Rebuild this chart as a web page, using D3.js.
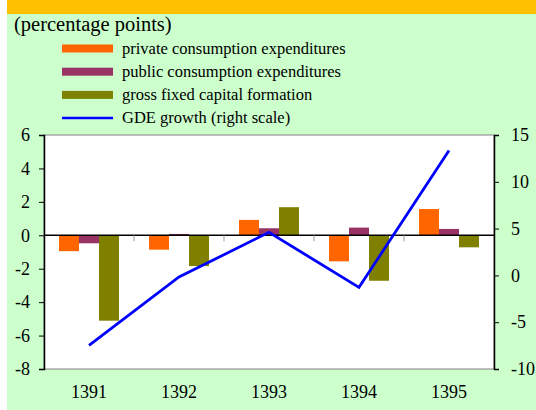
<!DOCTYPE html>
<html>
<head>
<meta charset="utf-8">
<script src="https://cdn.jsdelivr.net/npm/d3@7"></script>
<style>
  body { margin: 0; background: #fff; }
  svg text { font-family: "Liberation Serif", "Times New Roman", serif; fill: #000; }
</style>
</head>
<body>
<svg id="chart" width="536" height="410"></svg>
<script>
const years = ["1391", "1392", "1393", "1394", "1395"];
const privateCons = [-0.95, -0.86, 0.92, -1.56, 1.57];
const publicCons = [-0.48, 0.08, 0.42, 0.46, 0.38];
const gfcf = [-5.11, -1.84, 1.68, -2.72, -0.72];
const gdeGrowth = [-7.48, -0.17, 4.6, -1.28, 13.35];
const leftTicks = [6, 4, 2, 0, -2, -4, -6, -8];
const rightTicks = [15, 10, 5, 0, -5, -10];

const seriesNames = ["private consumption expenditures", "public consumption expenditures", "gross fixed capital formation"];
const seriesColors = ["#ff6600", "#993366", "#808000"];
const lineName = "GDE growth (right scale)";

const svg = d3.select("svg#chart");
const width = +svg.attr("width");
const height = +svg.attr("height");
const margin = { top: 135, right: 42, bottom: 41, left: 44 };
const chartWidth = width - margin.left - margin.right;
const chartHeight = height - margin.top - margin.bottom;
const serif = "Liberation Serif";
const fmt = d => String(d); // plain hyphen minus like the original

// backgrounds
svg.append("rect").attr("x", 7).attr("y", 0).attr("width", width - 7).attr("height", height).attr("fill", "#ccffcc");
svg.append("rect").attr("x", 7).attr("y", 0).attr("width", width - 7).attr("height", 14).attr("fill", "#ffc000");

const chart = svg.append("g").attr("transform", `translate(${margin.left},${margin.top})`);
chart.append("rect").attr("width", chartWidth).attr("height", chartHeight)
    .attr("fill", "#fff").attr("stroke", "#808080").attr("stroke-width", 1);

// scales
const xScale = d3.scaleBand().domain(years).range([0, chartWidth]).paddingInner(1 / 3).paddingOuter(1 / 6);
const subScale = d3.scaleBand().domain(d3.range(3)).range([0, xScale.bandwidth()]);
const yLeft = d3.scaleLinear().domain([-8, 6]).range([chartHeight, 0]);
const yRight = d3.scaleLinear().domain([-10, 15]).range([chartHeight, 0]);

const barData = [privateCons, publicCons, gfcf];

// bars
barData.forEach((vals, i) => {
    chart.append("g").selectAll("rect")
        .data(vals)
        .join("rect")
        .attr("x", (d, j) => xScale(years[j]) + subScale(i))
        .attr("width", subScale.bandwidth())
        .attr("y", d => yLeft(Math.max(0, d)))
        .attr("height", d => Math.abs(yLeft(d) - yLeft(0)))
        .attr("fill", seriesColors[i]);
});

// zero line with category ticks
chart.append("line").attr("x1", 0).attr("x2", chartWidth)
    .attr("y1", yLeft(0)).attr("y2", yLeft(0)).attr("stroke", "#000").attr("stroke-width", 1.5);
const step = xScale.step();
chart.append("g").selectAll("line")
    .data(d3.range(1, years.length))
    .join("line")
    .attr("x1", d => d * step).attr("x2", d => d * step)
    .attr("y1", yLeft(0)).attr("y2", yLeft(0) + 6)
    .attr("stroke", "#999").attr("stroke-width", 1);

// GDE line
const lineGen = d3.line()
    .x((d, i) => xScale(years[i]) + xScale.bandwidth() / 2)
    .y(d => yRight(d));
chart.append("path").attr("d", lineGen(gdeGrowth))
    .attr("fill", "none").attr("stroke", "#0000ff").attr("stroke-width", 2.8);

// axes
const leftAxis = d3.axisLeft(yLeft).tickValues(leftTicks).tickSize(5).tickPadding(9).tickFormat(fmt);
const rightAxis = d3.axisRight(yRight).tickValues(rightTicks).tickSize(5).tickPadding(12).tickFormat(fmt);
const gl = chart.append("g").call(leftAxis);
const gr = chart.append("g").attr("transform", `translate(${chartWidth},0)`).call(rightAxis);
[gl, gr].forEach(g => {
    g.attr("font-family", serif).attr("font-size", 18);
    g.selectAll("path").attr("stroke", "#000").attr("stroke-width", 1.5);
    g.selectAll("line").attr("stroke", "#000");
    g.selectAll("text").attr("font-family", serif).attr("font-size", 18);
});

// category labels
chart.append("g").selectAll("text")
    .data(years)
    .join("text")
    .attr("x", d => xScale(d) + xScale.bandwidth() / 2)
    .attr("y", chartHeight + 29)
    .attr("text-anchor", "middle")
    .attr("font-family", serif)
    .attr("font-size", 18)
    .text(d => d);

// title
svg.append("text").attr("x", 14).attr("y", 31)
    .attr("font-family", serif).attr("font-size", 20.5).text("(percentage points)");

// legend
const legend = svg.append("g").attr("font-family", serif);
seriesNames.forEach((name, i) => {
    const y = 48.5 + i * 23.2;
    legend.append("rect").attr("x", 62).attr("y", y - 4).attr("width", 51).attr("height", 8).attr("fill", seriesColors[i]);
    legend.append("text").attr("x", 122).attr("y", y + 5).attr("font-family", serif).attr("font-size", 16.5).text(name);
});
const ly = 48.5 + 3 * 23.2;
legend.append("line").attr("x1", 62).attr("x2", 113).attr("y1", ly).attr("y2", ly)
    .attr("stroke", "#0000ff").attr("stroke-width", 2.5);
legend.append("text").attr("x", 122).attr("y", ly + 5).attr("font-family", serif).attr("font-size", 16.5).text(lineName);
</script>
</body>
</html>
